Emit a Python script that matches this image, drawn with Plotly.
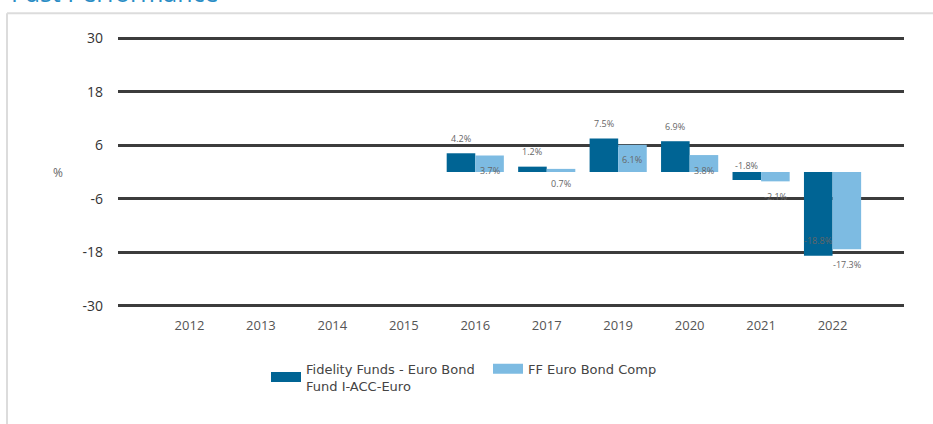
import plotly.graph_objects as go

years = ["2012", "2013", "2014", "2015", "2016", "2017", "2019", "2020", "2021", "2022"]
fund_values = [None, None, None, None, 4.2, 1.2, 7.5, 6.9, -1.8, -18.8]
index_values = [None, None, None, None, 3.7, 0.7, 6.1, 3.8, -2.1, -17.3]
fund_name = "Fidelity Funds - Euro Bond<br>Fund I-ACC-Euro"
index_name = "FF Euro Bond Comp"
y_ticks = [-30, -18, -6, 6, 18, 30]
y_tick_labels = ["-30", "-18", "-6", "6", "18", "30"]

DARK = "#006494"
LIGHT = "#7dbbe2"

W, H = 933, 424
EXT = 0.5  # extra range so edge gridlines are drawn
PXU = 268 / 60.0
ML, MR = 118, 29
MT = 38 - EXT * PXU
MB = 424 - 306 - EXT * PXU
PW, PH = W - ML - MR, H - MT - MB


def px_x(p):
    return (p - ML) / PW


def px_y(p):
    return (H - MB - p) / PH


fig = go.Figure()
fig.add_trace(go.Bar(x=years, y=fund_values, marker=dict(color=DARK, line=dict(width=0)),
                     showlegend=False, name="fund"))
fig.add_trace(go.Bar(x=years, y=index_values, marker=dict(color=LIGHT, line=dict(width=0)),
                     showlegend=False, name="index"))
# legend swatches
fig.add_trace(go.Scatter(x=[None], y=[None], mode="lines", line=dict(color=DARK, width=11),
                         name=fund_name))
fig.add_trace(go.Scatter(x=[None], y=[None], mode="lines", line=dict(color=LIGHT, width=11),
                         name=index_name))

annotations = []
for i, v in enumerate(fund_values):
    if v is None:
        continue
    annotations.append(dict(x=i, y=v, xref="x", yref="y", text=f"{v:.1f}%", showarrow=False,
                            xshift=-14.3, yshift=15, font=dict(size=9, color="#666666")))
for i, v in enumerate(index_values):
    if v is None:
        continue
    annotations.append(dict(x=i, y=v, xref="x", yref="y", text=f"{v:.1f}%", showarrow=False,
                            xshift=14.3, yshift=-15, font=dict(size=9, color="#666666")))

annotations.append(dict(x=px_x(51), y=0, xref="paper", yref="y", text="%", showarrow=False,
                        font=dict(size=12, color="#666666")))
annotations.append(dict(x=px_x(9), y=px_y(10.5), xref="paper", yref="paper", text="Past Performance",
                        showarrow=False, xanchor="left", yanchor="bottom",
                        font=dict(size=25, color="#2a8dc5", family="Open Sans")))

shapes = [
    dict(type="line", xref="paper", yref="paper", x0=px_x(7), x1=px_x(W), y0=px_y(13), y1=px_y(13),
         line=dict(color="#dcdcdc", width=2)),
    dict(type="line", xref="paper", yref="paper", x0=px_x(7), x1=px_x(7), y0=px_y(13), y1=px_y(H + 5),
         line=dict(color="#dcdcdc", width=2)),
]

fig.update_layout(
    width=W, height=H,
    margin=dict(l=ML, r=MR, t=MT, b=MB, pad=0, autoexpand=False),
    paper_bgcolor="white", plot_bgcolor="white",
    barmode="group", bargap=0.2, bargroupgap=0,
    font=dict(family="Open Sans", color="#333333"),
    xaxis=dict(type="category", categoryorder="array", categoryarray=years, range=[-1, 10],
               showgrid=False, zeroline=False, showline=False, ticks="",
               tickfont=dict(size=13, color="#555555"), ticklabelstandoff=8, fixedrange=True),
    yaxis=dict(range=[-30 - EXT, 30 + EXT], tickvals=y_ticks, ticktext=y_tick_labels,
               showgrid=True, gridcolor="#3c3c3c", gridwidth=2.5,
               zeroline=False, showline=False, ticks="", tickfont=dict(size=14, color="#333333"),
               ticklabelstandoff=14, fixedrange=True),
    legend=dict(orientation="h", x=px_x(266), y=px_y(354), xanchor="left", yanchor="top",
                font=dict(family="DejaVu Sans", size=13, color="#444444"),
                itemwidth=30, entrywidth=177, entrywidthmode="pixels",
                tracegroupgap=0, bgcolor="rgba(0,0,0,0)"),
    annotations=annotations,
    shapes=shapes,
)

fig.write_html("out.html", config={"displayModeBar": False},
               post_script="document.body.style.margin='0';")
